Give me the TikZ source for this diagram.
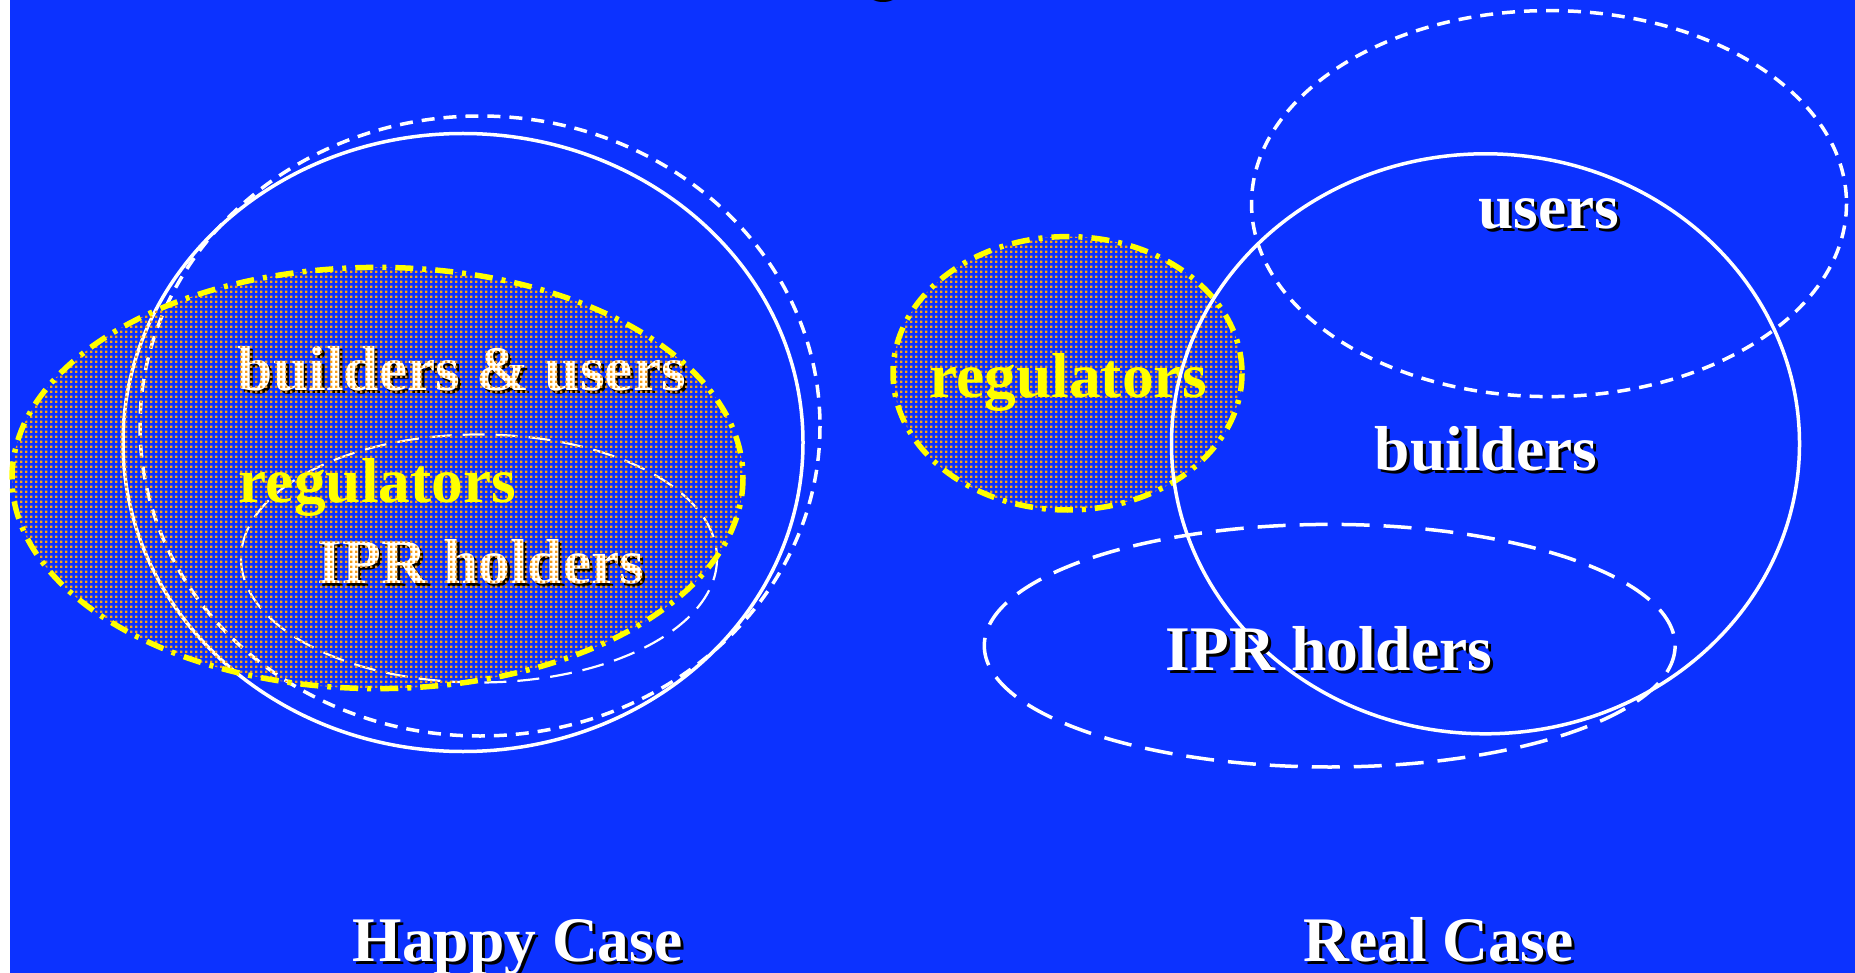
\documentclass[tikz,border=0pt]{standalone}
\usepackage{fontspec}
\setmainfont{Liberation Serif}
\usetikzlibrary{patterns.meta}
\definecolor{bgblue}{RGB}{12,50,255}
\definecolor{dotorange}{RGB}{250,160,20}
\definecolor{ylw}{RGB}{255,255,0}
\pgfdeclarepattern{
  name=odots,
  type=uncolored,
  bottom left={\pgfpoint{0pt}{0pt}},
  top right={\pgfpoint{5pt}{5pt}},
  tile size={\pgfpoint{5pt}{5pt}},
  code={\pgfpathrectangle{\pgfpointorigin}{\pgfpoint{2.8pt}{2.8pt}}\pgfusepath{fill}}
}
\tikzset{
  lbl/.style={anchor=base, inner sep=0pt, font=\fontsize{63.5}{70}\selectfont\bfseries},
  solidset/.style={draw=white, line width=3.5pt},
  shortdash/.style={draw=white, line width=3.5pt, dash pattern=on 13pt off 9pt},
  longdash/.style={draw=white, line width=3.5pt, dash pattern=on 28pt off 14pt},
  thindash/.style={draw=white, line width=2.2pt, dash pattern=on 22pt off 11pt},
  regset/.style={draw=ylw, line width=5.5pt, dash pattern=on 18pt off 9pt on 4pt off 9pt},
  dotfill/.style={pattern=odots, pattern color=dotorange}
}
\newcommand\shlabel[3]{%
  \node[lbl, text=black, xshift=3pt, yshift=-3pt] (#1s) at (#2) {#3};
  \node[lbl, text=white] (#1) at (#2) {#3};
}
\begin{document}
\begin{tikzpicture}[x=1pt,y=-1pt]
\useasboundingbox (0,0) rectangle (1855,973);
\clip (0,0) rectangle (1855,973);
\fill[white] (0,0) rectangle (1855,973);
\fill[bgblue] (10,0) rectangle (1855,973);
\fill[black] (883,-5) ellipse (14 and 7);
% ---------- Happy Case ----------
\draw[solidset] (463,442.5) ellipse (340 and 309);
\draw[shortdash] (480,426) ellipse (340 and 310);
\draw[thindash] (479,558.5) ellipse (238 and 124);
\shlabel{bu}{462,390.5}{builders \& users}
\shlabel{iprl}{481,583.5}{IPR holders}
\fill[dotfill] (377.5,478) ellipse (365.5 and 210.6);
\draw[regset] (377.5,478) ellipse (365.5 and 210.6);
\node[lbl, text=ylw] (regl) at (377.5,502) {regulators};
\shlabel{happy}{517.6,961}{Happy Case}
% ---------- Real Case ----------
\fill[dotfill] (1067.5,373.3) ellipse (174.5 and 136.7);
\draw[regset] (1067.5,373.3) ellipse (174.5 and 136.7);
\node[lbl, text=ylw] (regr) at (1068,397.5) {regulators};
\draw[solidset] (1485.5,443.8) ellipse (314 and 290);
\draw[shortdash] (1549,203.6) ellipse (297.5 and 193);
\draw[longdash] (1329.7,645.7) ellipse (345.4 and 121.3);
\shlabel{users}{1549,228.5}{users}
\shlabel{build}{1486,470}{builders}
\shlabel{iprr}{1329,670}{IPR holders}
\shlabel{real}{1438.5,961}{Real Case}
\end{tikzpicture}
\end{document}
